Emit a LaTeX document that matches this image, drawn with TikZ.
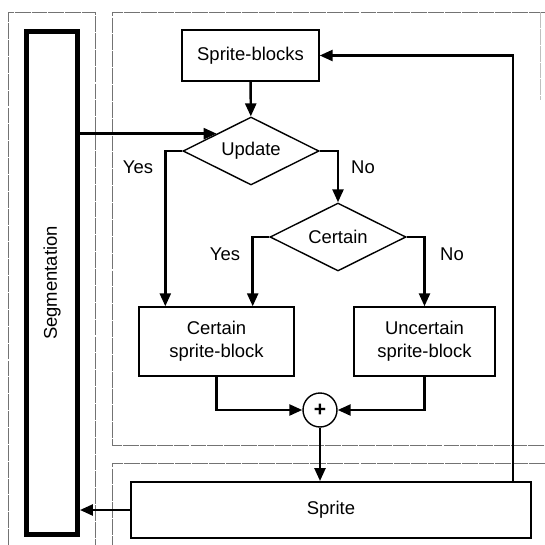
\documentclass[tikz,border=0pt]{standalone}
\usepackage{fontspec}
\setmainfont{Liberation Sans}
\usepackage{graphicx}
\usetikzlibrary{shapes.geometric}
\usetikzlibrary{arrows.meta}
\usetikzlibrary{calc}

\begin{document}
\begin{tikzpicture}[x=0.02cm, y=-0.02cm, >={Triangle[length=0.26cm, width=0.22cm]},
    font=\fontsize{10.5}{13}\selectfont,
    panel/.style={black!55, line width=0.5pt, dash pattern=on 9pt off 0.6pt},
    blk/.style={draw, rectangle, line width=0.8pt, inner sep=0pt, align=center},
    dec/.style={draw, diamond, aspect=2, line width=0.8pt, inner sep=0pt,
                minimum width=2.72cm, minimum height=1.36cm},
    flow/.style={->, line width=1.4pt}]

      % Picture frame
      \useasboundingbox (0,0) rectangle (545,545);

      % Panels (thin grey frames)
      \draw[panel] (8,545) -- (8,12) -- (95,12) -- (95,545);
      \draw[panel] (545,12) -- (112,12) -- (112,445) -- (545,445);
      \draw[panel] (545,463) -- (112,463) -- (112,545);
      \draw[panel, black!25] (540,12) -- (540,100);

      % Segmentation block
      \node[blk, line width=2.8pt, minimum width=1.02cm, minimum height=10.08cm] (seg)
            at (52,283) {\rotatebox{90}{Segmentation}};

      % Sprite-blocks and decisions
      \node[blk, minimum width=2.74cm, minimum height=1.02cm] (spb) at (250.5,55.5) {Sprite-blocks};
      \node[dec] (upd) at (251,151) {Update};
      \node[dec] (cer) at (338,237) {Certain};

      % Result blocks
      \node[blk, minimum width=3.1cm, minimum height=1.38cm] (cblk) at (216.5,341.5) {Certain\\sprite-block};
      \node[blk, minimum width=2.82cm, minimum height=1.38cm] (ublk) at (424.5,341.5) {Uncertain\\sprite-block};

      % Summing junction
      \node[draw, circle, line width=0.8pt, minimum size=0.68cm, inner sep=0pt] (sum) at (320,410) {\large\textbf{+}};

      % Sprite block
      \node[blk, line width=1.1pt, minimum width=8cm, minimum height=1.12cm] (spr) at (331,510) {Sprite};

      % Branch labels
      \node (yes1) at (138,167) {Yes};
      \node (no1) at (363,167) {No};
      \node (yes2) at (225,254) {Yes};
      \node (no2) at (452,254) {No};

      % Connections
      \draw[flow] (spb) -- (upd);
      \draw[flow] (seg.east |- upd.north west) -- (upd.north west);
      \draw[flow] (upd.west) -| ([xshift=0.54cm]cblk.north west);
      \draw[flow] (upd.east) -| (cer.north);
      \draw[flow] (cer.west) -| ([xshift=-0.84cm]cblk.north east);
      \draw[flow] (cer.east) -| (ublk.north);
      \draw[flow] (cblk.south) |- (sum.west);
      \draw[flow] (ublk.south) |- (sum.east);
      \draw[flow] (sum.south) -- (sum.south |- spr.north);

      % Feedback and output
      \draw[flow] ([xshift=-0.38cm]spr.north east) |- (spb.east);
      \draw[flow] (spr.west) -- (spr.west -| seg.east);

\end{tikzpicture}
\end{document}
